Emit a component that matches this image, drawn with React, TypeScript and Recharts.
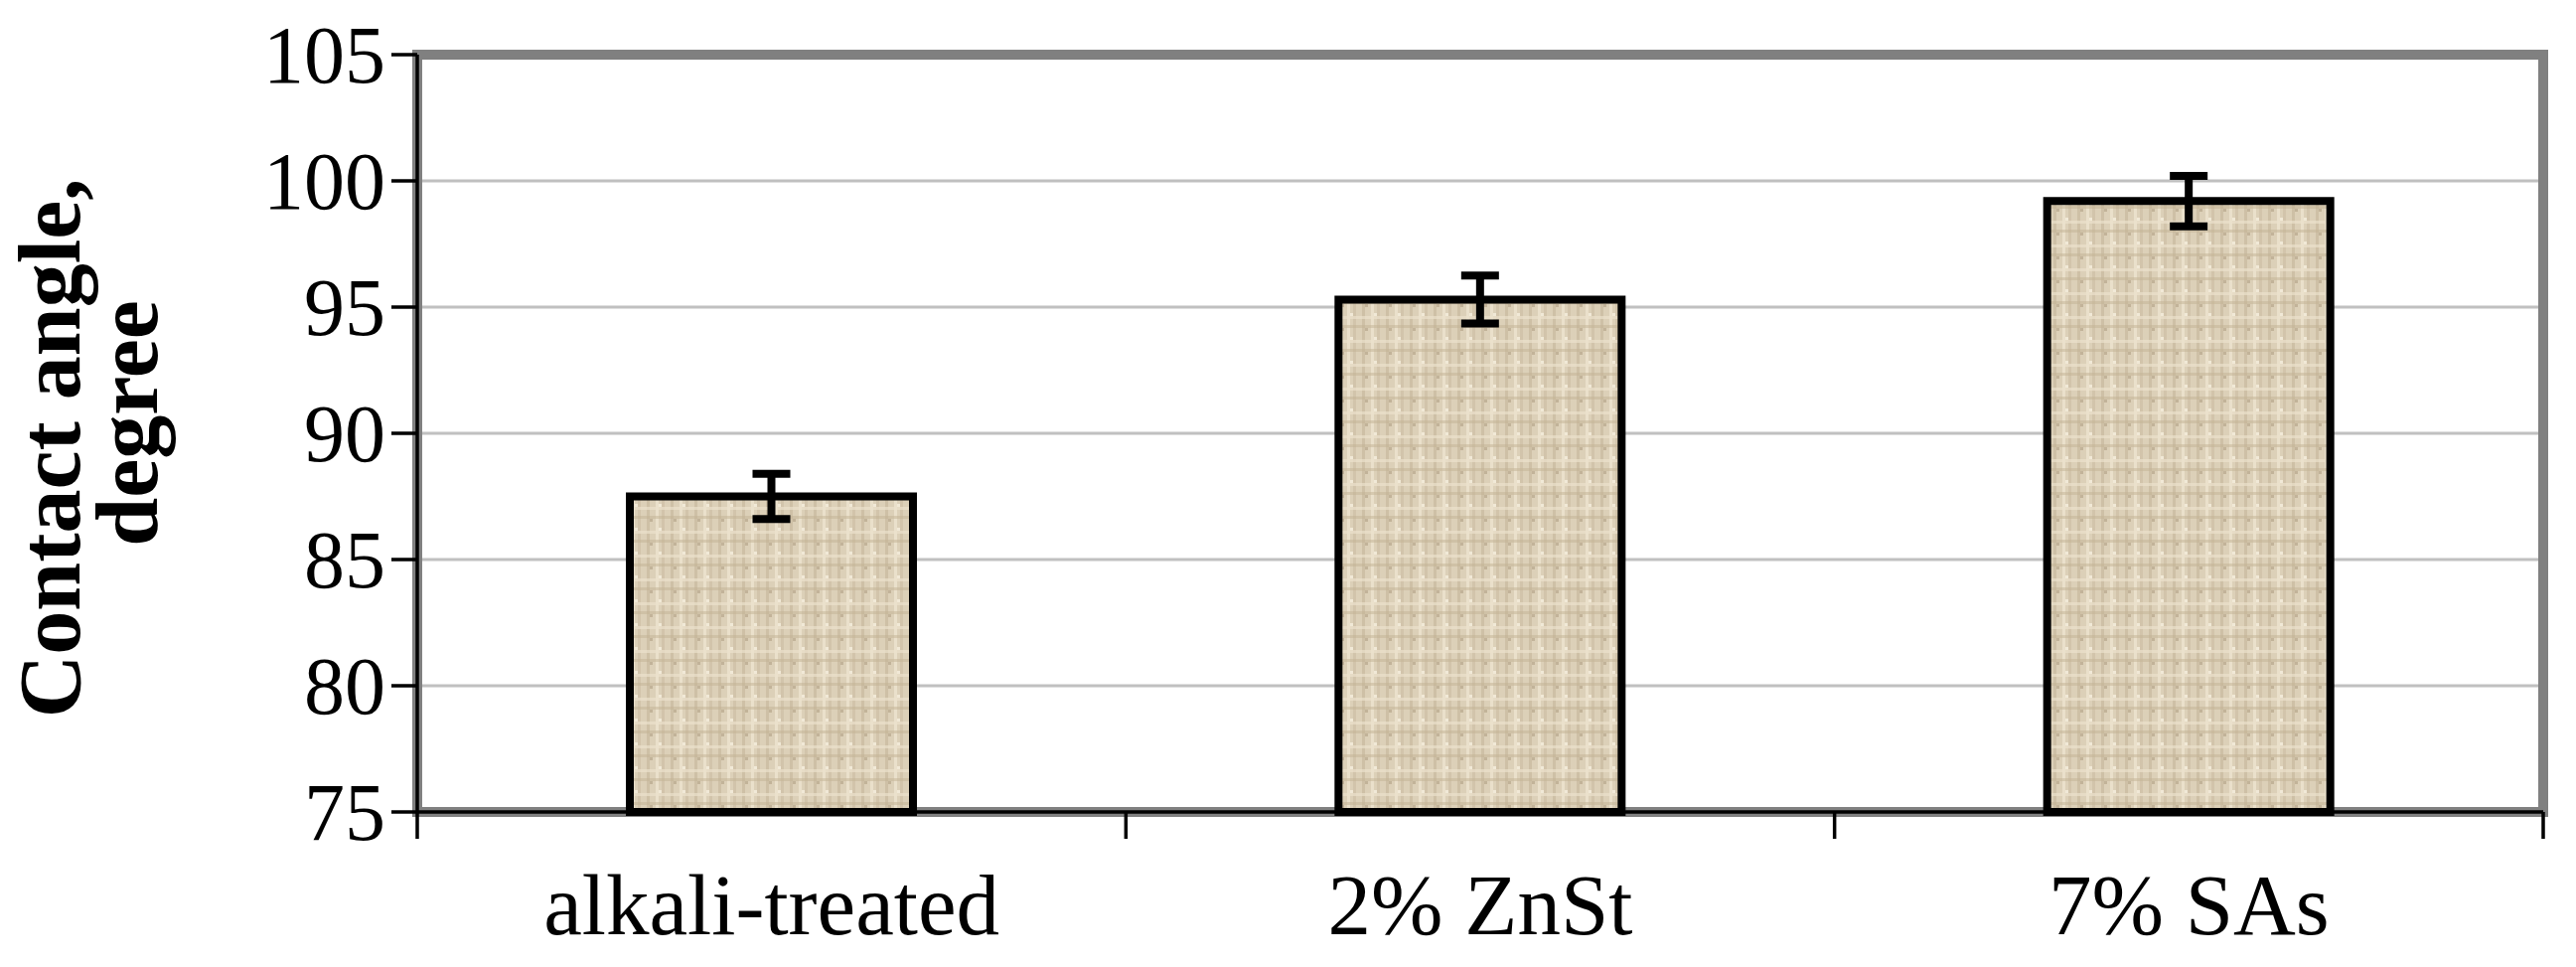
import { BarChart, Bar, XAxis, YAxis, CartesianGrid, ErrorBar, ReferenceArea, Label } from 'recharts';

const categories = ['alkali-treated', '2% ZnSt', '7% SAs'];
const contactAngle = [87.5, 95.3, 99.2];
const angleError = [0.9, 0.95, 1.0];
const yTicks = [75, 80, 85, 90, 95, 100, 105];

const data = categories.map((name, i) => ({ name, angle: contactAngle[i], err: angleError[i] }));

const FONT = '"Liberation Serif", "Times New Roman", serif';

function YTick({ x, y, payload }: any) {
  return (
    <text x={x} y={y} dy={28} textAnchor="end" fontFamily={FONT} fontSize={82} fill="#000">
      {payload.value}
    </text>
  );
}

// category label in the middle, tick marks on the category boundaries
function XTick({ x, y, payload, index }: any) {
  const half = payload.offset ?? 0;
  const last = index === categories.length - 1;
  return (
    <g>
      <line x1={x - half} x2={x - half} y1={y} y2={y + 27} stroke="#000" strokeWidth={3.5} />
      {last && <line x1={x + half} x2={x + half} y1={y} y2={y + 27} stroke="#000" strokeWidth={3.5} />}
      <text x={x} y={y + 123} textAnchor="middle" fontFamily={FONT} fontSize={87} fill="#000">
        {payload.value}
      </text>
    </g>
  );
}

function YTitle({ viewBox }: any) {
  const top = viewBox?.y ?? 55;
  const h = viewBox?.height ?? 760;
  const cy = top + h / 2 + 15;
  const cy2 = cy - 25;
  const style = { fontFamily: FONT, fontSize: 88, fontWeight: 700 as const };
  return (
    <g>
      <text x={80} y={cy} transform={`rotate(-90, 80, ${cy})`} textAnchor="middle" fill="#000" style={style}>
        Contact angle,
      </text>
      <text x={158} y={cy2} transform={`rotate(-90, 158, ${cy2})`} textAnchor="middle" fill="#000" style={style}>
        degree
      </text>
    </g>
  );
}

export default function App() {
  return (
    <div style={{ position: 'absolute', left: 0, top: 0, background: '#fff' }}>
      <BarChart
        width={2593}
        height={973}
        data={data}
        margin={{ top: 55, right: 33, left: 0, bottom: 0 }}
        barCategoryGap="30%"
      >
        <defs>
          <pattern id="burlap" width="24" height="24" patternUnits="userSpaceOnUse">
            <rect width="24" height="24" fill="#dcd0b8" />
            <rect x="3" width="3" height="24" fill="#c5b69a" opacity={0.6} />
            <rect x="12" width="3" height="24" fill="#eee4d0" opacity={0.8} />
            <rect x="18" width="3" height="24" fill="#cbbda2" opacity={0.6} />
            <rect y="6" width="24" height="3" fill="#ebe1cc" opacity={0.7} />
            <rect y="15" width="24" height="3" fill="#c2b294" opacity={0.5} />
            <rect x="6" y="18" width="3" height="3" fill="#b0a084" opacity={0.6} />
            <rect x="15" y="3" width="3" height="3" fill="#f6efdf" opacity={0.8} />
          </pattern>
        </defs>
        <CartesianGrid vertical={false} stroke="#c0c0c0" strokeWidth={3} />
        <XAxis
          dataKey="name"
          interval={0}
          height={156}
          tickSize={0}
          tickMargin={0}
          tickLine={false}
          tick={<XTick />}
          axisLine={{ stroke: '#000', strokeWidth: 3.5 }}
        />
        <YAxis
          domain={[75, 105]}
          ticks={yTicks}
          interval={0}
          width={420}
          tickSize={26}
          tickMargin={6}
          tick={<YTick />}
          tickLine={{ stroke: '#000', strokeWidth: 3.5 }}
          axisLine={{ stroke: '#000', strokeWidth: 3.5 }}
        >
          <Label content={<YTitle />} />
        </YAxis>
        <ReferenceArea
          x1={categories[0]}
          x2={categories[categories.length - 1]}
          y1={75}
          y2={105}
          fill="none"
          stroke="#808080"
          strokeWidth={10}
          ifOverflow="visible"
        />
        <Bar dataKey="angle" fill="url(#burlap)" stroke="#000" strokeWidth={8} isAnimationActive={false}>
          <ErrorBar dataKey="err" direction="y" width={19} stroke="#000" strokeWidth={8} />
        </Bar>
      </BarChart>
    </div>
  );
}
